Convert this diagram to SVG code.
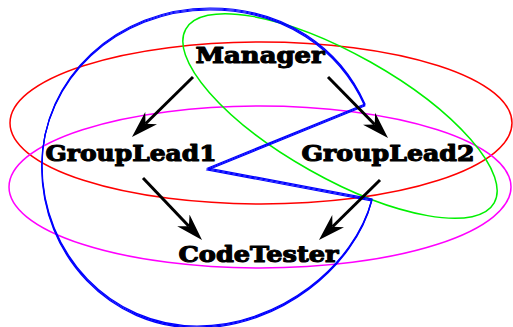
<svg xmlns="http://www.w3.org/2000/svg" xmlns:xlink="http://www.w3.org/1999/xlink" width="513" height="327" viewBox="0 0 513 327">
<style>
.ell{fill:none;stroke-width:1.5}
.blue{fill:none;stroke:#0000ff;stroke-width:1.2;stroke-linejoin:miter}
.edge{fill:none;stroke:#000;stroke-width:3;marker-end:url(#ah)}
.lbl{font-family:"DejaVu Serif","Liberation Serif",serif;font-weight:bold;font-size:22px;fill:#000;stroke:#000;stroke-width:1.1;stroke-linejoin:round;text-anchor:middle}
</style>
<defs>
<marker id="ah" markerUnits="userSpaceOnUse" viewBox="0 0 28 18" markerWidth="28" markerHeight="18" refX="8" refY="9" orient="auto">
<path d="M27,9 L0,0.5 L8,9 L0,17.5 Z" fill="#000"/>
</marker>
<path id="bluePath" d="M372,199 C355,265 280,326 197,326 C111,326 42,254 42,165 C42,78 117,8 210,8 C285,8 340,48 365,104 L208,168 Z"/>
</defs>
<g id="shapes">
<ellipse id="redEllipse" class="ell" stroke="#ff0000" cx="261" cy="123" rx="251" ry="81"/>
<ellipse id="magentaEllipse" class="ell" stroke="#ff00ff" cx="260" cy="187" rx="251" ry="81"/>
<ellipse id="greenEllipse" class="ell" stroke="#00f000" cx="340" cy="116" rx="177" ry="62" transform="rotate(29.4 340 116)"/>
<g id="blueShape" class="blue">
<use xlink:href="#bluePath"/>
<use xlink:href="#bluePath" transform="translate(-0.15 1)"/>
<use xlink:href="#bluePath" transform="translate(-0.3 2)"/>
</g>
</g>
<g id="connectors">
<line class="edge" x1="193" y1="77" x2="145.5" y2="123.7"/>
<line class="edge" x1="328" y1="77" x2="374.7" y2="124.5"/>
<line class="edge" x1="143" y1="178" x2="188.9" y2="226.2"/>
<line class="edge" x1="380" y1="180" x2="332.5" y2="226.7"/>
</g>
<g id="Manager"><text class="lbl" x="260" y="63" textLength="129" lengthAdjust="spacingAndGlyphs">Manager</text></g>
<g id="GroupLead1"><text class="lbl" x="131" y="161" textLength="171" lengthAdjust="spacingAndGlyphs">GroupLead1</text></g>
<g id="GroupLead2"><text class="lbl" x="388" y="161" textLength="173" lengthAdjust="spacingAndGlyphs">GroupLead2</text></g>
<g id="CodeTester"><text class="lbl" x="258.5" y="262" textLength="160" lengthAdjust="spacingAndGlyphs">CodeTester</text></g>
</svg>
